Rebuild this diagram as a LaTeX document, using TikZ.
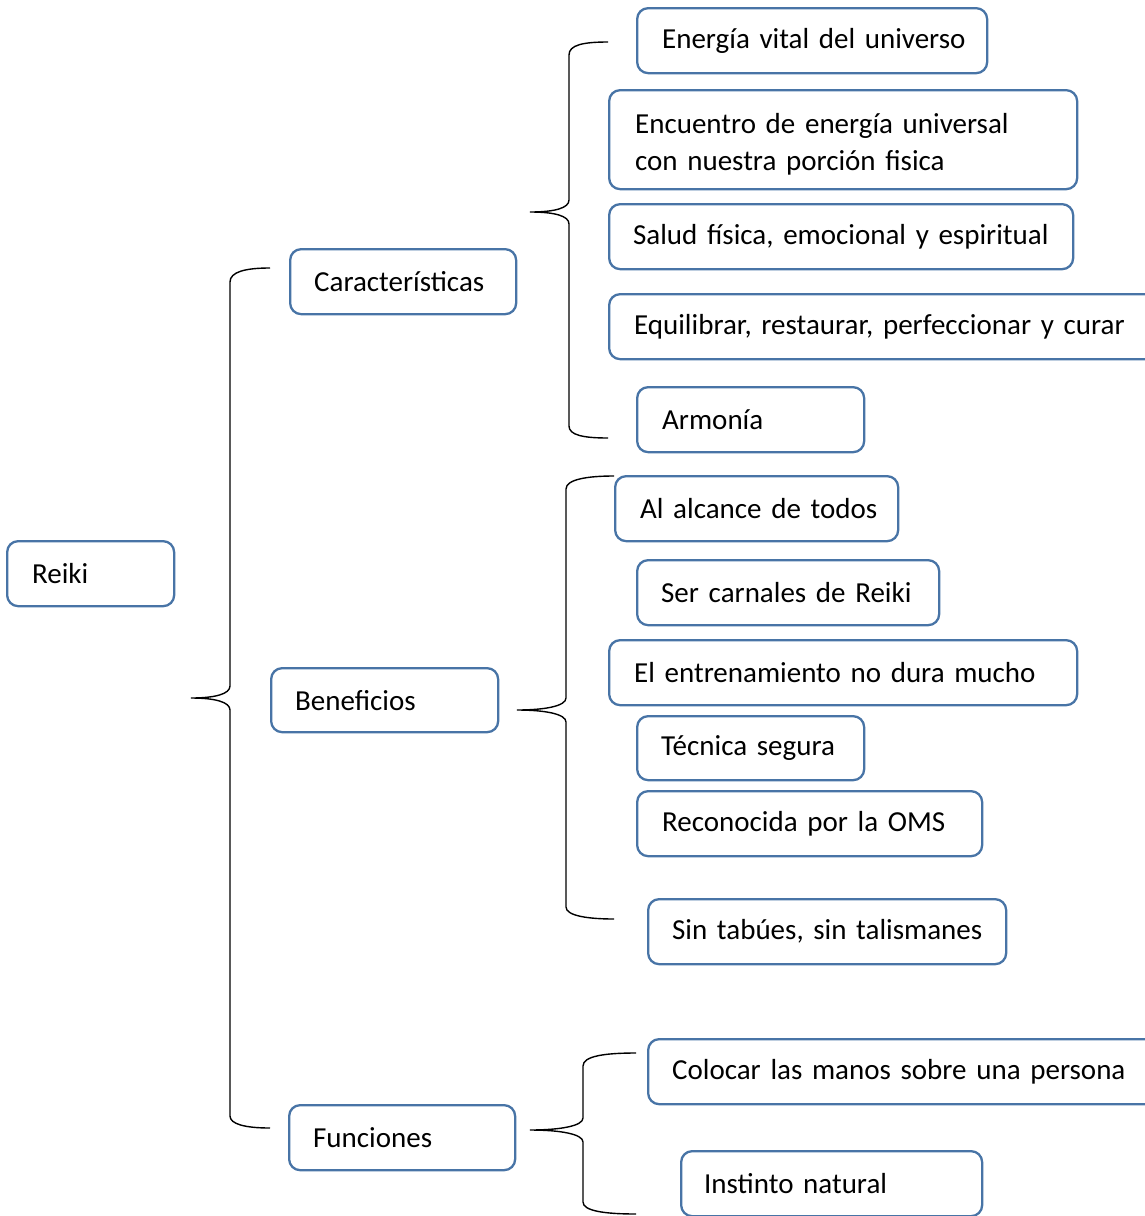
\documentclass[tikz,border=0pt]{standalone}
\usepackage{fontspec}
\setmainfont{Carlito}
\definecolor{boxblue}{RGB}{72,116,166}
\begin{document}
\begin{tikzpicture}[x=1pt,y=-1pt,
 box/.style={draw=boxblue, line width=2.3pt, rounded corners=11pt, anchor=north west,
   align=left, inner xsep=0pt, inner ysep=0pt, font=\fontsize{29}{37}\selectfont, text=black},
 brace/.style={draw=black, line width=1.4pt}]
\path[use as bounding box] (0,0) rectangle (1145,1216);
\clip (0,0) rectangle (1145,1216);
% root and level 1
\node[box, minimum height=65, text width=167] (reiki) at (6,540) {\hspace*{25pt}Reiki};
\node[box, minimum height=65, text width=226] (car) at (289,248) {\hspace*{24pt}Características};
\node[box, minimum height=64, text width=227] (ben) at (270,667) {\hspace*{24pt}Beneficios};
\node[box, minimum height=65, text width=226] (fun) at (288,1104) {\hspace*{24pt}Funciones};
% Características
\node[box, minimum height=65, text width=350] (e1) at (636,7) {\hspace*{25pt}Energía vital del universo};
\node[box, minimum height=99, text width=468] (e2) at (608,89) {\rule{0pt}{30pt}\hspace*{26pt}Encuentro de energía universal\\\hspace*{26pt}con nuestra porción fisica};
\node[box, minimum height=65, text width=464] (e3) at (608,203) {\hspace*{24pt}Salud física, emocional y espiritual};
\node[box, minimum height=65, text width=560] (e4) at (608,293) {\hspace*{25pt}Equilibrar, restaurar, perfeccionar y curar};
\node[box, minimum height=65, text width=227] (e5) at (636,386) {\hspace*{25pt}Armonía};
% Beneficios
\node[box, minimum height=65, text width=283] (b1) at (614,475) {\hspace*{25pt}Al alcance de todos};
\node[box, minimum height=65, text width=302] (b2) at (636,559) {\hspace*{24pt}Ser carnales de Reiki};
\node[box, minimum height=65, text width=468] (b3) at (608,639) {\hspace*{25pt}El entrenamiento no dura mucho};
\node[box, minimum height=64, text width=227] (b4) at (636,715) {\hspace*{24pt}Técnica segura};
\node[box, minimum height=65, text width=345] (b5) at (636,790) {\hspace*{25pt}Reconocida por la OMS};
\node[box, minimum height=65, text width=358] (b6) at (647,898) {\hspace*{24pt}Sin tabúes, sin talismanes};
% Funciones
\node[box, minimum height=65, text width=560] (f1) at (647,1038) {\hspace*{24pt}Colocar las manos sobre una persona};
\node[box, minimum height=65, text width=301] (f2) at (680,1150) {\hspace*{23pt}Instinto natural};
% brace tips
\coordinate (tR) at (191,698);
\coordinate (tC) at (530,212);
\coordinate (tB) at (517,710);
\coordinate (tF) at (530,1130);
% braces
\draw[brace] (270,268) .. controls (245,268) and (230,272) .. (230,282) -- (230,686)
  .. controls (230,694) and (215,698) .. (tR) .. controls (215,698) and (230,702) .. (230,710)
  -- (230,1116) .. controls (230,1124) and (245,1128) .. (270,1128);
\draw[brace] (608,42) .. controls (583,42) and (569,45) .. (569,55) -- (569,200)
  .. controls (569,208) and (555,212) .. (tC) .. controls (555,212) and (569,216) .. (569,224)
  -- (569,426) .. controls (569,435) and (583,438) .. (608,438);
\draw[brace] (614,476) .. controls (589,476) and (566,479) .. (566,489) -- (566,698)
  .. controls (566,706) and (545,710) .. (tB) .. controls (545,710) and (566,714) .. (566,722)
  -- (566,907) .. controls (566,916) and (589,919) .. (614,919);
\draw[brace] (636,1053) .. controls (605,1053) and (583,1056) .. (583,1066) -- (583,1118)
  .. controls (583,1126) and (560,1130) .. (tF) .. controls (560,1130) and (583,1134) .. (583,1142)
  -- (583,1202) .. controls (583,1211) and (605,1214) .. (636,1214);
\end{tikzpicture}
\end{document}
